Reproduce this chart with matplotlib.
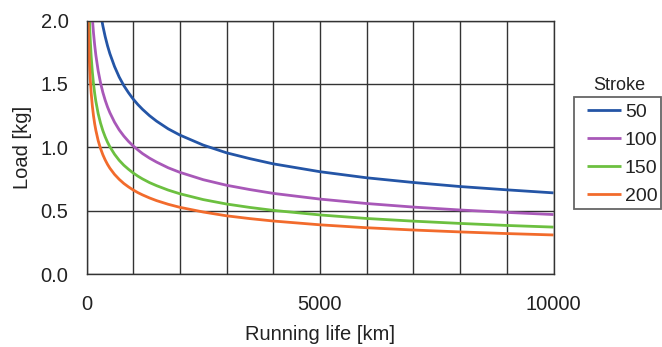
import matplotlib
matplotlib.use("Agg")
import matplotlib.pyplot as plt
from matplotlib.ticker import MultipleLocator, FormatStrFormatter
from matplotlib.patches import Rectangle

plt.rcParams['font.family'] = ['Liberation Sans', 'DejaVu Sans']

running_life = [25, 30, 35, 40, 50, 60, 70, 80, 100, 125, 150, 175, 200, 250, 300, 350, 400, 450,
                500, 600, 700, 800, 900, 1000, 1100, 1200, 1350, 1500, 1750, 2000, 2500, 3000,
                3500, 4000, 5000, 6000, 7000, 8000, 9000, 10000]
load_50 = [4.72, 4.44, 4.22, 4.04, 3.75, 3.52, 3.35, 3.20, 2.97, 2.76, 2.60, 2.47, 2.36, 2.19,
           2.062, 1.958, 1.873, 1.801, 1.739, 1.637, 1.554, 1.486, 1.430, 1.380, 1.337, 1.299,
           1.249, 1.206, 1.145, 1.096, 1.017, 0.956, 0.910, 0.869, 0.807, 0.759, 0.722, 0.690,
           0.664, 0.640]
load_100 = [3.45, 3.25, 3.09, 2.95, 2.74, 2.58, 2.45, 2.34, 2.18, 2.02, 1.901, 1.806, 1.727,
            1.603, 1.509, 1.433, 1.371, 1.318, 1.273, 1.198, 1.137, 1.088, 1.046, 1.010, 0.979,
            0.950, 0.914, 0.883, 0.838, 0.802, 0.744, 0.700, 0.666, 0.636, 0.591, 0.556, 0.528,
            0.505, 0.486, 0.469]
load_150 = [2.73, 2.56, 2.44, 2.33, 2.16, 2.04, 1.934, 1.850, 1.717, 1.594, 1.500, 1.425, 1.363,
            1.265, 1.191, 1.131, 1.082, 1.040, 1.004, 0.945, 0.897, 0.858, 0.826, 0.797, 0.772,
            0.750, 0.721, 0.697, 0.662, 0.633, 0.587, 0.552, 0.525, 0.502, 0.466, 0.438, 0.417,
            0.399, 0.383, 0.370]
load_200 = [2.27, 2.13, 2.03, 1.94, 1.80, 1.693, 1.609, 1.539, 1.428, 1.326, 1.248, 1.185, 1.134,
            1.052, 0.991, 0.941, 0.900, 0.865, 0.835, 0.786, 0.747, 0.714, 0.687, 0.663, 0.642,
            0.624, 0.600, 0.579, 0.550, 0.526, 0.489, 0.459, 0.437, 0.418, 0.388, 0.365, 0.347,
            0.332, 0.319, 0.308]
stroke_labels = ["50", "100", "150", "200"]
colors = ["#2455a6", "#a858b8", "#6cc040", "#f26b2c"]

W, H = 662, 347
fig = plt.figure(figsize=(W / 100, H / 100), dpi=100)
ax = fig.add_axes([86.5 / W, 1 - 274 / H, (553.5 - 86.5) / W, (274 - 20.5) / H])

for vals, lab, c in zip([load_50, load_100, load_150, load_200], stroke_labels, colors):
    ax.plot(running_life, vals, color=c, lw=2.0, label=lab, solid_capstyle='butt')

ax.set_xlim(0, 10000)
ax.set_ylim(0, 2.0)
ax.xaxis.set_major_locator(MultipleLocator(5000))
ax.xaxis.set_minor_locator(MultipleLocator(1000))
ax.yaxis.set_major_locator(MultipleLocator(0.5))
ax.yaxis.set_major_formatter(FormatStrFormatter('%.1f'))
ax.grid(True, which='both', color='#333333', lw=1.0)
ax.set_axisbelow(True)
ax.tick_params(which='both', length=0, labelsize=14.5, colors='#222222')
ax.tick_params(axis='x', pad=15)
ax.tick_params(axis='y', pad=13)
for s in ax.spines.values():
    s.set_color('#333333')
    s.set_linewidth(1.0)

ax.set_xlabel("Running life [km]", fontsize=14.5, color='#222222', labelpad=8)
ax.set_ylabel("Load [kg]", fontsize=14.5, color='#222222', labelpad=6)

# legend frame and entries
fig.patches.append(Rectangle((574 / W, 1 - 209 / H), (661 - 574) / W, (209 - 97) / H,
                             transform=fig.transFigure, fill=False, edgecolor='#666666',
                             lw=1.3, zorder=5))
leg = fig.legend(loc='upper left', bbox_to_anchor=(587 / W, 1 - 103 / H), fontsize=14,
                 frameon=False, handlelength=1.75, handletextpad=0.2,
                 borderpad=0, labelspacing=0.54, borderaxespad=0)
for t in leg.get_texts():
    t.set_color('#222222')
fig.text(619 / W, 1 - 86 / H, "Stroke", ha='center', va='center', fontsize=13, color='#222222')

fig.savefig("out.png", dpi=100)
